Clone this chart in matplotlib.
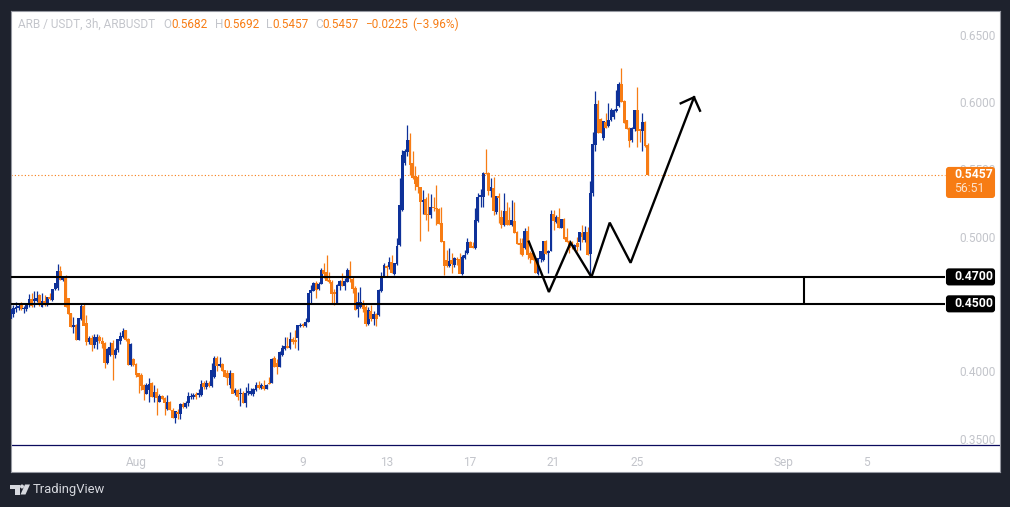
import numpy as np
import matplotlib
matplotlib.use("Agg")
import matplotlib.pyplot as plt
from matplotlib.patches import FancyBboxPatch, Polygon, Circle
from matplotlib.transforms import IdentityTransform

plt.rcParams['font.family'] = ['Roboto', 'DejaVu Sans']

BLUE = '#0e3199'
ORANGE = '#f77c14'
BG = '#1e222d'
GREY = '#c3c5cb'

opens = [
    .4392,.4429,.4464,.4471,.4508,.4459,.4464,.4489,.4536,.4523,
    .4523,.4565,.4480,.4520,.4491,.4553,.4533,.4612,.4617,.4744,
    .4677,.4706,.4541,.4429,.4330,.4343,.4231,.4390,.4484,.4355,
    .4219,.4246,.4194,.4215,.4256,.4224,.4207,.4063,.4120,.4207,
    .4120,.4157,.4226,.4256,.4306,.4239,.4046,.4090,.4053,.3984,
    .3974,.3897,.3835,.3860,.3914,.3811,.3843,.3773,.3815,.3798,
    .3719,.3768,.3712,.3655,.3699,.3682,.3756,.3736,.3766,.3806,
    .3810,.3833,.3823,.3823,.3914,.3885,.3910,.3890,.3959,.4100,
    .4038,.4053,.4009,.3984,.3897,.3984,.3840,.3860,.3830,.3840,
    .3761,.3840,.3835,.3830,.3860,.3897,.3875,.3890,.3870,.3914,
    .3914,.4095,.4058,.4033,.4120,.4169,.4187,.4174,.4236,.4230,
    .4244,.4335,.4350,.4335,.4367,.4578,.4598,.4657,.4612,.4652,
    .4751,.4736,.4677,.4664,.4590,.4503,.4632,.4667,.4635,.4664,
    .4751,.4684,.4620,.4461,.4479,.4508,.4479,.4355,.4447,.4387,
    .4424,.4417,.4598,.4709,.4781,.4776,.4813,.4726,.4800,.4937,
    .5197,.5548,.5630,.5716,.5548,.5451,.5444,.5365,.5258,.5276,
    .5167,.5157,.5216,.5214,.5204,.5097,.4966,.4825,.4781,.4825,
    .4788,.4833,.4833,.4726,.4840,.4875,.4961,.4929,.4917,.5117,
    .5295,.5295,.5469,.5469,.5338,.5357,.5184,.5300,.5142,.5085,
    .5189,.5122,.5085,.5115,.5031,.4949,.4954,.4918,.5041,.4880,
    .4880,.4838,.4722,.4831,.4826,.4967,.4880,.4895,.5168,.5111,
    .5143,.5066,.5130,.4992,.4962,.4950,.4908,.4950,.4962,.5024,
    .4975,.5029,.4868,.5321,.5680,.5984,.5875,.5734,.5848,.5823,
    .5866,.5890,.5932,.5972,.6133,.6002,.5861,.5801,.5717,.5801,
    .5940,.5796,.5786,.5851,.5682,
]
highs = [
    .4484,.4491,.4516,.4508,.4513,.4484,.4499,.4570,.4583,.4595,
    .4595,.4570,.4578,.4565,.4553,.4583,.4607,.4652,.4796,.4781,
    .4706,.4712,.4546,.4429,.4400,.4350,.4395,.4504,.4499,.4417,
    .4260,.4268,.4276,.4276,.4268,.4251,.4214,.4174,.4214,.4231,
    .4174,.4236,.4290,.4318,.4306,.4244,.4207,.4095,.4058,.3990,
    .3984,.3905,.3910,.3947,.3920,.3900,.3872,.3830,.3823,.3806,
    .3823,.3775,.3725,.3704,.3720,.3760,.3768,.3775,.3848,.3840,
    .3835,.3845,.3865,.3934,.3925,.3934,.3929,.4058,.4112,.4112,
    .4108,.4060,.4009,.4009,.4009,.3990,.3872,.3865,.3872,.3850,
    .3880,.3910,.3872,.3877,.3917,.3929,.3910,.3934,.3905,.3959,
    .4100,.4112,.4088,.4152,.4194,.4256,.4256,.4293,.4251,.4306,
    .4343,.4355,.4355,.4392,.4578,.4640,.4664,.4670,.4660,.4763,
    .4800,.4862,.4739,.4677,.4610,.4650,.4677,.4726,.4689,.4763,
    .4818,.4700,.4630,.4590,.4627,.4528,.4495,.4479,.4491,.4450,
    .4435,.4610,.4739,.4800,.4788,.4850,.4862,.4805,.4986,.5432,
    .5642,.5647,.5828,.5766,.5637,.5523,.5460,.5370,.5345,.5290,
    .5320,.5315,.5295,.5382,.5210,.5216,.4970,.4899,.4912,.4875,
    .4850,.4850,.4875,.4862,.4899,.4986,.4969,.4961,.5209,.5320,
    .5352,.5481,.5647,.5481,.5432,.5444,.5300,.5320,.5197,.5320,
    .5258,.5221,.5271,.5258,.5040,.4986,.4986,.5061,.5081,.4890,
    .4885,.4850,.4843,.4888,.4967,.4975,.4900,.5197,.5197,.5160,
    .5210,.5130,.5135,.5061,.4975,.4970,.4945,.5000,.5031,.5086,
    .5081,.5070,.5415,.5779,.6081,.6014,.5880,.5853,.5915,.5989,
    .5957,.5950,.6088,.6150,.6249,.6010,.5866,.5815,.5810,.5940,
    .6108,.5800,.5920,.5860,.5692,
]
lows = [
    .4387,.4405,.4442,.4454,.4454,.4434,.4449,.4474,.4479,.4474,
    .4510,.4484,.4474,.4484,.4484,.4530,.4520,.4600,.4600,.4677,
    .4670,.4479,.4424,.4330,.4286,.4231,.4231,.4380,.4340,.4194,
    .4200,.4152,.4169,.4162,.4210,.4169,.4026,.4053,.4110,.3934,
    .4100,.4145,.4200,.4245,.4226,.4046,.4040,.4040,.3959,.3840,
    .3860,.3786,.3830,.3773,.3811,.3773,.3674,.3770,.3790,.3674,
    .3712,.3712,.3650,.3617,.3642,.3642,.3730,.3730,.3745,.3790,
    .3790,.3790,.3811,.3815,.3870,.3870,.3880,.3885,.3950,.4004,
    .4030,.4004,.3959,.3897,.3872,.3835,.3825,.3786,.3744,.3761,
    .3736,.3820,.3820,.3815,.3850,.3870,.3865,.3860,.3865,.3905,
    .3914,.4033,.3979,.4030,.4110,.4160,.4169,.4165,.4200,.4174,
    .4157,.4325,.4325,.4330,.4367,.4504,.4595,.4546,.4605,.4650,
    .4689,.4672,.4652,.4503,.4491,.4503,.4602,.4630,.4602,.4660,
    .4660,.4578,.4454,.4404,.4470,.4440,.4335,.4340,.4370,.4343,
    .4335,.4410,.4590,.4700,.4701,.4760,.4731,.4714,.4790,.4930,
    .5190,.5530,.5600,.5456,.5430,.5345,.5320,.4966,.5167,.5122,
    .5041,.5140,.5190,.5085,.5092,.4961,.4714,.4770,.4770,.4726,
    .4770,.4790,.4726,.4715,.4830,.4869,.4919,.4912,.4910,.5110,
    .5220,.5220,.5464,.5308,.5291,.5159,.5170,.5097,.5060,.5080,
    .5085,.5085,.5080,.5028,.4942,.4867,.4856,.4910,.4833,.4801,
    .4826,.4727,.4715,.4814,.4820,.4871,.4727,.4890,.5049,.5100,
    .5061,.5061,.4982,.4957,.4875,.4910,.4900,.4895,.4900,.4960,
    .4960,.4866,.4702,.5300,.5638,.5771,.5771,.5720,.5804,.5815,
    .5860,.5870,.5925,.5960,.6002,.5846,.5801,.5667,.5705,.5786,
    .5663,.5705,.5638,.5663,.5457,
]
closes = [
    .4461,.4469,.4479,.4484,.4459,.4466,.4499,.4533,.4484,.4536,
    .4540,.4491,.4520,.4497,.4553,.4536,.4607,.4652,.4744,.4677,
    .4706,.4479,.4424,.4330,.4343,.4231,.4395,.4484,.4340,.4219,
    .4244,.4194,.4256,.4256,.4224,.4202,.4063,.4162,.4182,.4120,
    .4157,.4236,.4261,.4301,.4231,.4046,.4202,.4046,.3974,.3960,
    .3892,.3860,.3897,.3905,.3811,.3843,.3800,.3815,.3798,.3768,
    .3768,.3712,.3650,.3704,.3682,.3756,.3736,.3766,.3815,.3818,
    .3823,.3811,.3835,.3905,.3880,.3914,.3890,.4009,.4095,.4038,
    .4053,.4004,.3959,.3947,.3984,.3835,.3860,.3811,.3840,.3761,
    .3840,.3853,.3853,.3865,.3897,.3875,.3895,.3870,.3900,.3905,
    .4090,.4033,.4033,.4145,.4169,.4187,.4175,.4236,.4217,.4220,
    .4343,.4343,.4335,.4367,.4578,.4603,.4657,.4603,.4647,.4751,
    .4726,.4672,.4664,.4573,.4573,.4640,.4667,.4635,.4669,.4751,
    .4682,.4610,.4454,.4511,.4516,.4461,.4355,.4454,.4385,.4424,
    .4390,.4602,.4709,.4788,.4770,.4813,.4731,.4800,.4929,.5234,
    .5605,.5637,.5716,.5531,.5432,.5390,.5370,.5258,.5271,.5164,
    .5157,.5216,.5209,.5204,.5097,.4961,.4781,.4781,.4820,.4796,
    .4838,.4825,.4726,.4845,.4860,.4961,.4919,.4912,.5122,.5295,
    .5308,.5469,.5464,.5338,.5365,.5192,.5300,.5290,.5085,.5189,
    .5085,.5085,.5122,.5028,.4942,.4937,.4862,.5041,.4863,.4840,
    .4826,.4727,.4838,.4888,.4967,.4871,.4895,.5168,.5116,.5143,
    .5061,.5130,.4982,.4957,.4913,.4937,.4937,.4925,.5029,.5000,
    .5029,.4866,.5321,.5687,.5984,.5771,.5771,.5853,.5804,.5866,
    .5935,.5940,.5945,.6133,.6002,.5846,.5801,.5710,.5801,.5940,
    .5786,.5786,.5846,.5672,.5457,
]
assert len(opens) == len(highs) == len(lows) == len(closes) == 245

# hand drawn bits, in candle index / price
zigzag_x = [198.5, 206.2, 214.5, 222.5, 229.5, 237.5, 261.8]
zigzag_y = [.4962, .4588, .4954, .4699, .5103, .4805, .6034]
arrow_x = [256.7, 261.8, 264.1]
arrow_y = [.5989, .6034, .5934]

# 0.4500 sits under its black label in the reference, so no grey one here
price_ticks = [.35, .40, .50, .55, .60, .65]
date_pos = [48, 80, 112, 144, 176, 208, 240, 296, 328]
date_labels = ['Aug', '5', '9', '13', '17', '21', '25', 'Sep', '5']

last_price = .5457
level_hi = .4700
level_lo = .4500
bottom_line = .3455
range_x = 303.9
lines_end = 358

W, H = 1010, 507
fig = plt.figure(figsize=(W / 100, H / 100), dpi=100, facecolor=BG)
left, right, top, bottom = 10.5, 1000, 10.5, 471.5
ax = fig.add_axes([left / W, 1 - bottom / H, (right - left) / W, (bottom - top) / H])
ax.set_facecolor('white')

# pixels -> data
step = 2.61
px_per_price = 1346.7
ax.set_xlim(48 + (left - 136) / step, 48 + (right - 136) / step)
ax.set_ylim(.65 - (bottom - 34.5) / px_per_price, .65 - (top - 34.5) / px_per_price)

x = np.arange(len(opens))
o, h, l, c = map(np.array, (opens, highs, lows, closes))
up = c >= o
colors = np.where(up, BLUE, ORANGE)
ax.vlines(x, l, h, colors=colors, lw=0.9, zorder=2)
ax.bar(x, np.abs(c - o) + .0002, bottom=np.minimum(o, c) - .0001, width=1.1, color=colors, lw=0, zorder=3)

ax.hlines(last_price, ax.get_xlim()[0], lines_end, colors=ORANGE, lw=0.8, linestyles=(0, (1, 2)), zorder=1)
ax.hlines([level_hi, level_lo], ax.get_xlim()[0], lines_end, colors='black', lw=1.5, zorder=4)
ax.vlines(range_x, level_lo, level_hi, colors='black', lw=1.5, zorder=4)
ax.axhline(bottom_line, color='#0b0b5e', lw=0.9, zorder=1)
ax.plot(zigzag_x, zigzag_y, color='black', lw=1.7, zorder=5, solid_joinstyle='miter')
ax.plot(arrow_x, arrow_y, color='black', lw=1.7, zorder=5, solid_joinstyle='miter')

ax.yaxis.tick_right()
ax.set_yticks(price_ticks)
ax.set_yticklabels(['%.4f' % p for p in price_ticks])
ax.set_xticks(date_pos)
ax.set_xticklabels(date_labels)
ax.tick_params(axis='y', length=0, pad=-29, labelsize=8.6, labelcolor=GREY)
ax.tick_params(axis='x', length=0, pad=-11, labelsize=8.6, labelcolor=GREY)
for s in ax.spines.values():
    s.set_color('#9598a1')
    s.set_linewidth(0.8)


def ptxt(px, py, s, color, size=8.6, weight='normal', ha='left'):
    fig.text(px / W, 1 - py / H, s, color=color, fontsize=size, fontweight=weight,
             ha=ha, va='center', zorder=12)


def price_box(price, color, height, above, lines):
    # box on the price scale, anchored on the price's pixel row
    yd = ax.transData.transform((0, price))[1]
    y0 = yd - height + above
    fig.add_artist(FancyBboxPatch((947, y0 + 1), 47, height - 2, boxstyle='round,pad=0,rounding_size=2',
                                  transform=IdentityTransform(), fc=color, ec=color, lw=1.5, zorder=10))
    for dy, s, col in lines:
        fig.text(954 / W, (yd - dy) / H, s, color=col, fontsize=8.8, fontweight='bold' if dy == 0 else 'normal',
                 ha='left', va='center', zorder=12)


price_box(last_price, ORANGE, 31, 8, [(0, '%.4f' % last_price, 'white'), (14, '56:51', '#fde3cc')])
price_box(level_hi, 'black', 17, 8.5, [(0, '%.4f' % level_hi, 'white')])
price_box(level_lo, 'black', 17, 8.5, [(0, '%.4f' % level_lo, 'white')])

# legend row
ptxt(18, 24, 'ARB / USDT, 3h, ARBUSDT', GREY, size=8.5)
ptxt(163, 24, 'O', GREY, size=8.5)
ptxt(171.5, 24, '0.5682', ORANGE, size=8.5)
ptxt(215, 24, 'H', GREY, size=8.5)
ptxt(223, 24, '0.5692', ORANGE, size=8.5)
ptxt(266, 24, 'L', GREY, size=8.5)
ptxt(272, 24, '0.5457', ORANGE, size=8.5)
ptxt(315, 24, 'C', GREY, size=8.5)
ptxt(322, 24, '0.5457', ORANGE, size=8.5)
ptxt(365, 24, '\u22120.0225', ORANGE, size=8.5)
ptxt(412, 24, '(\u22123.96%)', ORANGE, size=8.5)

# TradingView logo
logo = '#d6d8de'
fy = lambda py: H - py
fig.add_artist(Polygon([(10, fy(484.5)), (19.5, fy(484.5)), (19.5, fy(494.5)), (14.5, fy(494.5)),
                        (14.5, fy(488.5)), (10, fy(488.5))], transform=IdentityTransform(), fc=logo, ec='none', zorder=10))
fig.add_artist(Circle((22, fy(486.5)), 2, transform=IdentityTransform(), fc=logo, ec='none', zorder=10))
fig.add_artist(Polygon([(25, fy(484.5)), (30, fy(484.5)), (25.5, fy(494.5)), (20.5, fy(494.5))],
                       transform=IdentityTransform(), fc=logo, ec='none', zorder=10))
ptxt(33, 490, 'TradingView', logo, size=9.4)

fig.savefig('out.png', dpi=100, facecolor=BG)
